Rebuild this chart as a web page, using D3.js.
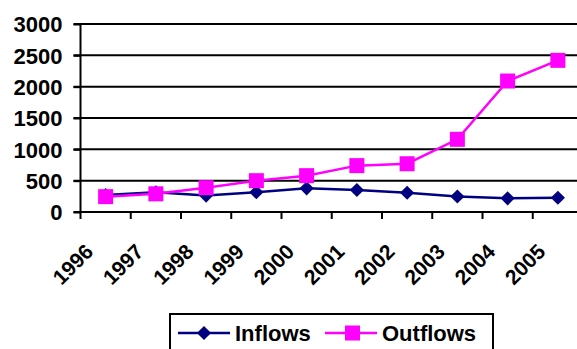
<!DOCTYPE html>
<html>
<head>
<meta charset="utf-8">
<script src="https://cdn.jsdelivr.net/npm/d3@7"></script>
<style>
body { margin:0; background:#fff; }
svg { display:block; font-family:"Liberation Sans", Arial, sans-serif; }
.tickText { font-weight:bold; font-size:22px; fill:#000; }
.yearText { font-weight:bold; font-size:21px; fill:#000; }
.legendText { font-weight:bold; font-size:22px; fill:#000; }
</style>
</head>
<body>
<svg width="577" height="349"></svg>
<script>
years = ["1996","1997","1998","1999","2000","2001","2002","2003","2004","2005"];
inflows = [270, 315, 262, 315, 378, 351, 308, 247, 218, 228];
outflows = [245, 290, 388, 500, 580, 740, 770, 1160, 2090, 2420];
yTicks = [0, 500, 1000, 1500, 2000, 2500, 3000];

svg = d3.select("svg");
left = 80.5; right = 583; top0 = 24; bottom = 212;

x = d3.scaleBand().domain(years).range([left, right]);
y = d3.scaleLinear().domain([0, 3000]).range([bottom, top0]);

// сетка
svg.append("g").selectAll("line")
	.data(yTicks.slice(1))
	.enter().append("line")
		.attr("x1", left - 7).attr("x2", 577)
		.attr("y1", function(d){ return y(d); })
		.attr("y2", function(d){ return y(d); })
		.attr("stroke", "#000")
		.attr("stroke-width", 2)
;

asisY = svg.append("g")
		.attr("transform", "translate(" + [left, 0] + ")")
		.call(d3.axisLeft(y).tickValues(yTicks).tickFormat(d3.format("d")).tickSize(7).tickPadding(11))
;
asisY.select(".domain").attr("stroke-width", 2).attr("d", "M0," + bottom + "V" + (top0 - 1));
asisY.selectAll(".tick line").attr("stroke-width", 2);
asisY.selectAll(".tick text").attr("class", "tickText").attr("font-size", null).attr("font-family", null).attr("dy", "0.36em");

asisX = svg.append("g")
		.attr("transform", "translate(" + [0, bottom] + ")")
		.call(d3.axisBottom(x).tickSizeOuter(0).tickSize(7))
;
asisX.select(".domain").attr("stroke-width", 2).attr("d", "M" + (left - 7) + ",0H577");
// засечки между категориями
asisX.selectAll(".tick line").attr("stroke-width", 2).attr("x1", -x.bandwidth()/2).attr("x2", -x.bandwidth()/2);
asisX.selectAll(".tick text")
		.attr("class", "yearText")
		.attr("font-size", null).attr("font-family", null)
		.attr("text-anchor", "end")
		.attr("y", 0).attr("dy", 0)
		.attr("transform", "translate(-11,41) rotate(-45)")
;

line = d3.line()
		.x(function(d, i){ return x(years[i]) + x.bandwidth()/2; })
		.y(function(d){ return y(d); })
;

svg.append("path")
		.attr("d", line(inflows))
		.attr("fill", "none")
		.attr("stroke", "#000080")
		.attr("stroke-width", 2.5)
;
svg.append("g").selectAll("path")
	.data(inflows)
	.enter().append("path")
		.attr("d", d3.symbol().type(d3.symbolSquare).size(100))
		.attr("transform", function(d, i){ return "translate(" + [x(years[i]) + x.bandwidth()/2, y(d)] + ") rotate(45)"; })
		.attr("fill", "#000080")
;

svg.append("path")
		.attr("d", line(outflows))
		.attr("fill", "none")
		.attr("stroke", "#FF00FF")
		.attr("stroke-width", 2.5)
;
svg.append("g").selectAll("rect")
	.data(outflows)
	.enter().append("rect")
		.attr("x", function(d, i){ return x(years[i]) + x.bandwidth()/2 - 7.5; })
		.attr("y", function(d){ return y(d) - 7.5; })
		.attr("width", 15).attr("height", 15)
		.attr("fill", "#FF00FF")
;

// легенда
legend = svg.append("g").attr("transform", "translate(170,314)");
legend.append("rect")
		.attr("width", 323).attr("height", 40)
		.attr("fill", "#fff")
		.attr("stroke", "#000")
		.attr("stroke-width", 2)
;
legend.append("line").attr("x1", 8).attr("x2", 60).attr("y1", 19).attr("y2", 19).attr("stroke", "#000080").attr("stroke-width", 2.5);
legend.append("path")
		.attr("d", d3.symbol().type(d3.symbolSquare).size(100))
		.attr("transform", "translate(34,19) rotate(45)")
		.attr("fill", "#000080")
;
legend.append("text").attr("class", "legendText").attr("x", 65).attr("y", 27).text("Inflows");
legend.append("line").attr("x1", 155).attr("x2", 207).attr("y1", 19).attr("y2", 19).attr("stroke", "#FF00FF").attr("stroke-width", 2.5);
legend.append("rect").attr("x", 175).attr("y", 11.5).attr("width", 15).attr("height", 15).attr("fill", "#FF00FF");
legend.append("text").attr("class", "legendText").attr("x", 212).attr("y", 27).text("Outflows");
</script>
</body>
</html>
